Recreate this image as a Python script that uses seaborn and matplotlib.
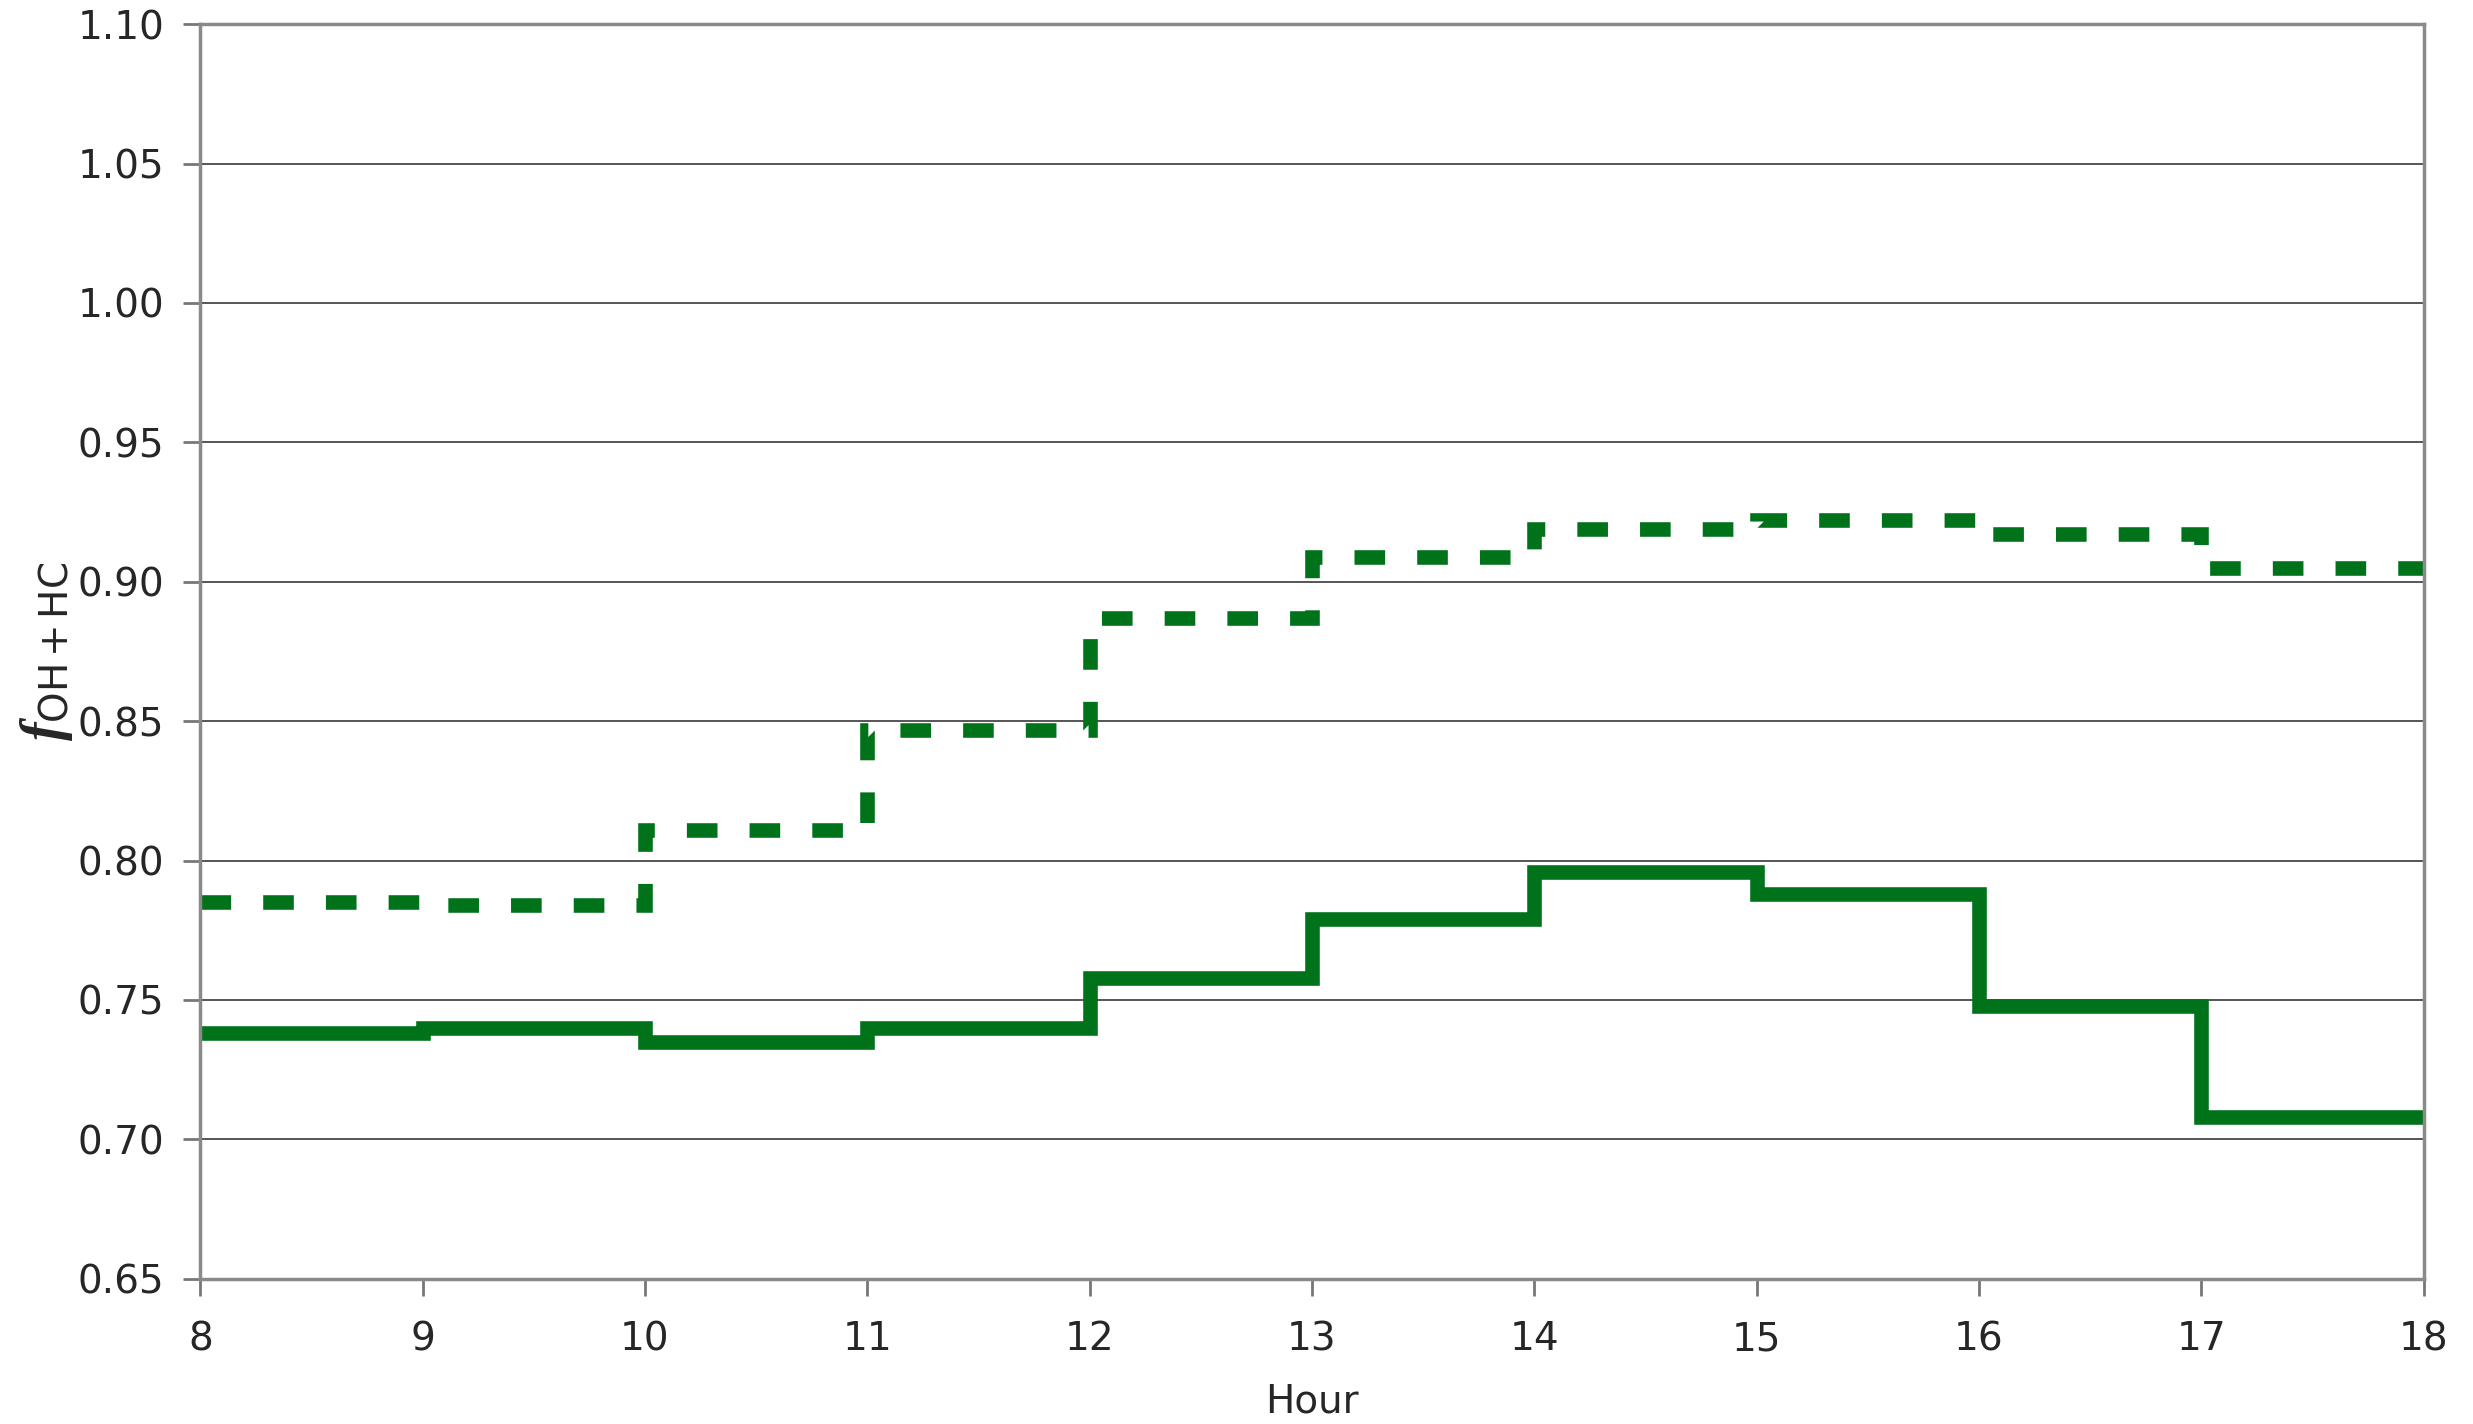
import pandas as pd
import matplotlib
matplotlib.use("Agg")
import matplotlib.pyplot as plt
import seaborn as sns

# hourly values (step plot, value holds until next hour)
hours = [8, 9, 10, 11, 12, 13, 14, 15, 16, 17, 18]
solid_vals = [0.738, 0.740, 0.735, 0.740, 0.758, 0.779, 0.796, 0.788, 0.748, 0.708, 0.708]
dashed_vals = [0.785, 0.784, 0.811, 0.847, 0.887, 0.909, 0.919, 0.922, 0.917, 0.905, 0.905]

yticks = [0.65, 0.70, 0.75, 0.80, 0.85, 0.90, 0.95, 1.00, 1.05, 1.10]

green = '#00731a'

sns.set_style('white')
plt.rcParams['font.family'] = ['DejaVu Sans']
plt.rcParams['mathtext.fontset'] = 'custom'
plt.rcParams['mathtext.it'] = 'Liberation Serif:style=italic:weight=bold'
plt.rcParams['mathtext.rm'] = 'DejaVu Sans'

df = pd.DataFrame({'Hour': hours, 'solid': solid_vals, 'dashed': dashed_vals})

fig = plt.figure(figsize=(24.73, 14.24), dpi=100)
ax = fig.add_axes([0.081, 0.102, 0.899, 0.881])

sns.lineplot(data=df, x='Hour', y='dashed', ax=ax, color=green, linewidth=10.5,
             drawstyle='steps-post', linestyle=(0, (2.1, 2.2)),
             dash_joinstyle='miter', dash_capstyle='butt')
sns.lineplot(data=df, x='Hour', y='solid', ax=ax, color=green, linewidth=10.5,
             drawstyle='steps-post', solid_joinstyle='miter', solid_capstyle='butt')

ax.set_xlim(8, 18)
ax.set_ylim(0.65, 1.10)
ax.set_xticks(hours)
ax.set_yticks(yticks)
ax.set_yticklabels([f'{v:.2f}' for v in yticks])
ax.yaxis.grid(True, color='#555555', linewidth=1.4)
ax.set_axisbelow(True)

for s in ['left', 'right', 'top', 'bottom']:
    ax.spines[s].set_visible(True)
    ax.spines[s].set_color('#8a8a8a')
    ax.spines[s].set_linewidth(2.5)

ax.tick_params(axis='both', direction='out', length=12, width=2, color='#777777',
               labelsize=28, bottom=True, left=True)
ax.tick_params(axis='x', pad=18)
ax.tick_params(axis='y', pad=14)

ax.set_xlabel('Hour', fontsize=28, labelpad=17)
ax.set_ylabel(r'$f_{\mathrm{OH+HC}}$', fontsize=40, labelpad=2)

fig.savefig('out.png', dpi=100)
